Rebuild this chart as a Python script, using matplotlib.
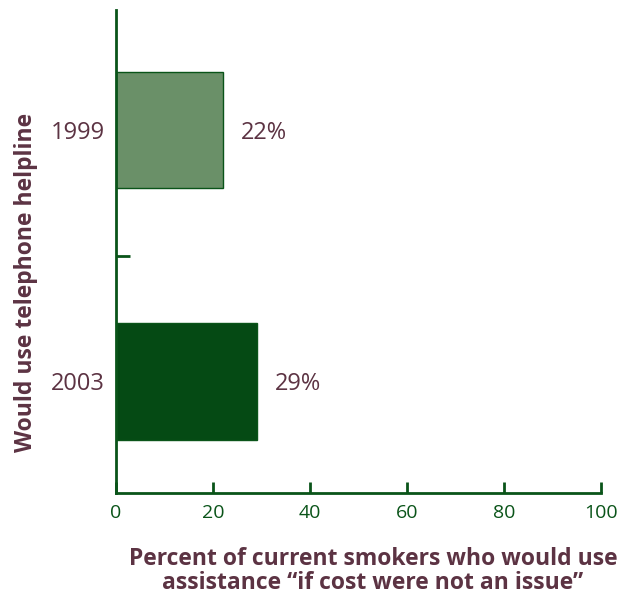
import matplotlib
matplotlib.use("Agg")
import matplotlib.pyplot as plt

years = ["2003", "1999"]
values = [29, 22]
bar_colors = ["#054a14", "#6a9068"]
xticks = [0, 20, 40, 60, 80, 100]

green = "#0a5419"
maroon = "#5c3343"

plt.rcParams['font.family'] = ['Open Sans', 'DejaVu Sans']

fig = plt.figure(figsize=(6.27, 5.96), dpi=100)
ax = fig.add_axes([116 / 627, 103 / 596, 485 / 627, 483 / 596])

pos = list(range(len(years)))
ax.barh(pos, values, height=0.466, color=bar_colors, edgecolor=green, linewidth=1)

for p, v in zip(pos, values):
    ax.text(v + 3.8, p - 0.01, f"{v}%", va="center", ha="left", fontsize=17, color=maroon)

ax.set_xlim(0, 100)
ax.set_ylim(-0.446, 1.478)
ax.set_xticks(xticks)
ax.set_xticklabels([str(t) for t in xticks], fontsize=14, color=green)
ax.tick_params(axis="x", direction="in", length=8, width=2, color=green, pad=8)

ax.set_yticks(pos)
ax.set_yticklabels(years, fontsize=17, color=maroon)
ax.tick_params(axis="y", which="major", length=0, pad=8)
ax.set_yticks([0.5], minor=True)
ax.tick_params(axis="y", which="minor", direction="in", length=10, width=2, color=green)

for s in ["top", "right"]:
    ax.spines[s].set_visible(False)
for s in ["left", "bottom"]:
    ax.spines[s].set_color(green)
    ax.spines[s].set_linewidth(2)

ax.set_ylabel("Would use telephone helpline", fontsize=16.5, fontweight="bold", color=maroon)
ax.yaxis.set_label_coords(-0.16, 0.435)

fig.text(373 / 627, 1 - 571 / 596, "Percent of current smokers who would use\nassistance \u201cif cost were not an issue\u201d",
         ha="center", va="center", fontsize=16.5, fontweight="bold", color=maroon, linespacing=1.05)

fig.savefig("out.png", dpi=100)
